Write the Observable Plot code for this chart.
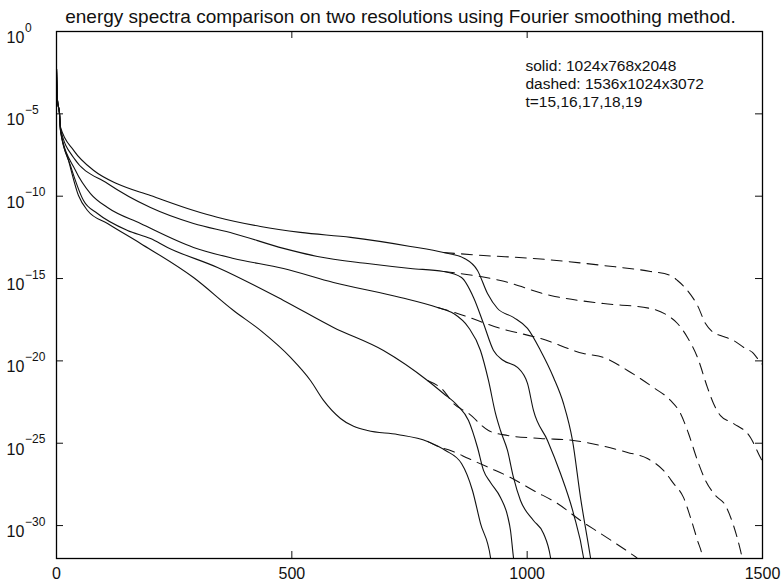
<!DOCTYPE html>
<html>
<head>
<meta charset="utf-8">
<script src="https://cdn.jsdelivr.net/npm/d3@7"></script>
<script src="https://cdn.jsdelivr.net/npm/@observablehq/plot@0.6"></script>
<style>
  body { margin: 0; background: #fff; }
  svg { display: block; }
</style>
</head>
<body>
<div id="chart"></div>
<script>
// Energy spectra, [wavenumber k, log10 E(k)] pairs.
// Solid: 1024x768x2048 run; dashed: 1536x1024x3072 run (where it departs from the solid one).
const solid_t19 = [[0,-2.25],[2.1,-4.19],[6.4,-4.98],[8.5,-5.81],[36.8,-7.23],[79.2,-8.44],[129,-9.25],[199.7,-9.96],[291.7,-10.87],[341.4,-11.28],[433.4,-11.84],[518,-12.2],[625,-12.5],[752.1,-13.05],[822.2,-13.42],[866.9,-13.78],[894.5,-14.51],[915.7,-15.91],[937,-16.82],[970.9,-17.36],[1000.7,-18.03],[1028.3,-19.37],[1056,-21.01],[1077.2,-22.59],[1096.3,-24.83],[1113.3,-28.29],[1134.5,-31.94],[1137,-32.4]];
const solid_t18 = [[0,-2.25],[2.1,-4.19],[6.4,-4.98],[8.5,-5.89],[36.1,-7.65],[108.4,-9.23],[199.7,-10.69],[291.1,-11.66],[376.1,-12.26],[482.3,-13.17],[554.5,-13.66],[660.8,-14.09],[752.1,-14.39],[822.2,-14.57],[860.5,-14.94],[886,-16.15],[907.2,-17.73],[928.5,-19.37],[949.7,-19.98],[979.4,-20.4],[1000.7,-21.37],[1013.4,-23.01],[1043.2,-24.83],[1070.8,-26.84],[1098.4,-29.27],[1119.7,-31.94],[1122,-32.4]];
const solid_t17 = [[0,-2.25],[2.1,-4.19],[6.4,-4.98],[8.5,-6.01],[40.4,-8.44],[72.2,-9.84],[108.4,-10.69],[178.5,-11.66],[291.1,-13.11],[376.1,-13.78],[482.3,-14.39],[588.5,-15.24],[730.9,-16.15],[809.5,-16.76],[843.5,-17.12],[875.4,-17.97],[900.8,-19.37],[917.8,-21.19],[932.7,-23.19],[943.3,-24.23],[958.2,-25.44],[970.9,-27.08],[985.8,-28.48],[1013.4,-29.69],[1034.7,-30.48],[1049.6,-31.94],[1052,-32.4]];
const solid_t16 = [[0,-2.25],[2.1,-4.19],[6.4,-4.98],[8.5,-6.01],[29.7,-8.14],[57.4,-10.26],[87.1,-11.05],[150.8,-12.08],[199.7,-12.57],[235.8,-13.11],[342.1,-14.33],[482.3,-16.33],[588.5,-17.97],[694.7,-19.37],[788.2,-21.19],[822.2,-21.98],[852,-22.71],[875.4,-23.62],[894.5,-25.26],[907.2,-26.65],[922.1,-27.38],[943.3,-28.29],[958.2,-29.39],[964.6,-30.3],[970.9,-31.94],[973,-32.4]];
const solid_t15 = [[0,-2.25],[2.1,-4.19],[6.4,-4.98],[8.5,-6.01],[25.5,-7.83],[46.7,-9.96],[65.9,-10.87],[108.4,-11.66],[178.5,-12.87],[291.1,-14.94],[376.1,-16.94],[433.4,-18.15],[497.2,-19.79],[539.6,-21.19],[567.3,-22.4],[603.4,-23.5],[660.8,-24.23],[724.5,-24.47],[788.2,-24.89],[826.5,-25.44],[860.5,-26.23],[883.8,-27.87],[900.8,-29.87],[922.1,-31.94],[924,-32.4]];

const dashed_t19 = [[822.2,-13.42],[907.2,-13.6],[1013.4,-13.78],[1085.7,-13.97],[1162.2,-14.21],[1262,-14.57],[1304.5,-14.81],[1319.4,-15.12],[1340.6,-15.73],[1361.9,-16.64],[1378.9,-17.73],[1395.9,-18.28],[1410.7,-18.46],[1438.3,-18.76],[1463.8,-19.25],[1478.7,-19.49],[1489.3,-19.85],[1500,-20.22]];
const dashed_t18 = [[822.2,-14.57],[943.3,-15.12],[1049.6,-16.03],[1162.2,-16.52],[1262,-16.82],[1298.1,-17.24],[1319.4,-17.73],[1340.6,-18.58],[1361.9,-19.79],[1383.1,-21.62],[1395.9,-22.59],[1410.7,-23.32],[1438.3,-23.8],[1474.4,-24.65],[1495.6,-25.87],[1500,-26.11]];
const dashed_t17 = [[809.5,-16.76],[852,-17.12],[943.3,-18.03],[1028.3,-18.64],[1119.7,-19.55],[1162.2,-19.79],[1213.2,-20.58],[1268.4,-21.62],[1304.5,-22.4],[1325.7,-23.19],[1342.8,-24.41],[1361.9,-26.05],[1378.9,-27.26],[1400.1,-28.17],[1421.3,-28.78],[1438.3,-29.99],[1453.2,-31.51],[1460,-32.4]];
const dashed_t16 = [[788.2,-21.19],[822.2,-21.8],[843.5,-22.59],[875.4,-23.19],[917.8,-24.23],[958.2,-24.53],[1028.3,-24.71],[1098.4,-24.83],[1155.8,-25.14],[1213.2,-25.56],[1255.6,-25.93],[1289.6,-26.65],[1310.9,-27.44],[1332.1,-28.29],[1347,-29.51],[1361.9,-30.91],[1372.5,-31.94],[1375,-32.4]];
const dashed_t15 = [[788.2,-24.89],[815.9,-25.26],[837.1,-25.44],[875.4,-25.93],[917.8,-26.47],[964.6,-27.08],[1013.4,-27.87],[1064.4,-28.66],[1113.3,-29.69],[1155.8,-30.48],[1219.5,-31.69],[1234.4,-32],[1245,-32.4]];

// Axis ticks and annotation text
const xTicks = [0, 500, 1000, 1500];
const yTickExponents = [0, -5, -10, -15, -20, -25, -30];
const titleText = "energy spectra comparison on two resolutions using Fourier smoothing method.";
const noteLines = ["solid: 1024x768x2048", "dashed: 1536x1024x3072", "t=15,16,17,18,19"];

const solidSeries = [["19", solid_t19], ["18", solid_t18], ["17", solid_t17], ["16", solid_t16], ["15", solid_t15]];
const dashedSeries = [["19", dashed_t19], ["18", dashed_t18], ["17", dashed_t17], ["16", dashed_t16], ["15", dashed_t15]];
const toRows = (series) => series.flatMap(([t, pts]) => pts.map(([k, e]) => ({t, k, E: 10 ** e})));
const solidRows = toRows(solidSeries);
const dashedRows = toRows(dashedSeries);

const W = 781, H = 582;
const mL = 56, mR = 19, mT = 31, mB = 24;
const plotW = W - mL - mR, plotH = H - mT - mB;
const tickLen = 7;
const font = "'Liberation Sans', Arial, Helvetica, sans-serif";
const ink = "#111";

const chart = Plot.plot({
  width: W,
  height: H,
  marginLeft: mL,
  marginRight: mR,
  marginTop: mT,
  marginBottom: mB,
  style: {fontFamily: font, background: "#fff", color: ink},
  x: {domain: [0, 1500], axis: null},
  y: {type: "log", domain: [1e-32, 1], axis: null},
  marks: [
    Plot.line(dashedRows, {x: "k", y: "E", z: "t", stroke: ink, strokeWidth: 1.05, strokeDasharray: "11,7", curve: "monotone-x", clip: true}),
    Plot.line(solidRows, {x: "k", y: "E", z: "t", stroke: ink, strokeWidth: 1.1, curve: "monotone-x", clip: true}),
    // inward tick marks on all four sides
    Plot.ruleX(xTicks, {x: d => d, insetTop: plotH - tickLen, stroke: ink, strokeWidth: 1}),
    Plot.ruleX(xTicks, {x: d => d, insetBottom: plotH - tickLen, stroke: ink, strokeWidth: 1}),
    Plot.ruleY(yTickExponents, {y: d => 10 ** d, insetRight: plotW - tickLen, stroke: ink, strokeWidth: 1}),
    Plot.ruleY(yTickExponents, {y: d => 10 ** d, insetLeft: plotW - tickLen, stroke: ink, strokeWidth: 1}),
    Plot.frame({stroke: "#000", strokeWidth: 1.3}),
    // x tick labels
    Plot.text(xTicks, {x: d => d, text: d => String(d), frameAnchor: "bottom", lineAnchor: "top", dy: 9, fontSize: 16, fill: ink}),
    // y tick labels as 10 with a raised exponent
    Plot.text(yTickExponents, {y: d => 10 ** d, text: () => "10", frameAnchor: "left", textAnchor: "start", lineAnchor: "top", dx: -50, fontSize: 16, fill: ink}),
    Plot.text(yTickExponents, {y: d => 10 ** d, text: d => d === 0 ? "0" : "\u2212" + (-d), frameAnchor: "left", textAnchor: "start", lineAnchor: "bottom", dx: -31.5, fontSize: 12, fill: ink}),
    // title
    Plot.text([titleText], {text: d => d, frameAnchor: "top", lineAnchor: "bottom", dy: -9, dx: -9, fontSize: 19, fill: ink}),
    // annotation block
    Plot.text([noteLines.join("\n")], {text: d => d, frameAnchor: "top-left", textAnchor: "start", lineAnchor: "top", dx: 469, dy: 26, fontSize: 15.5, lineHeight: 1.19, fill: ink})
  ]
});

document.getElementById("chart").append(chart);
</script>
</body>
</html>
